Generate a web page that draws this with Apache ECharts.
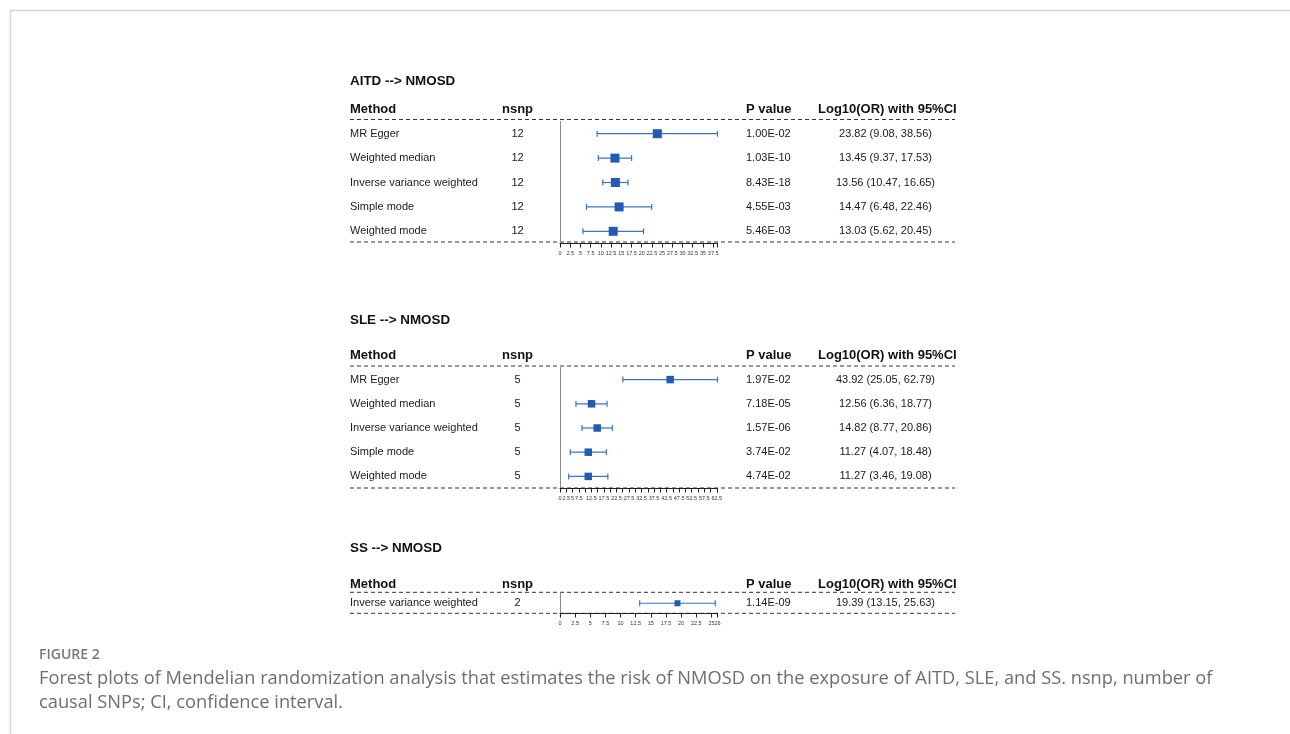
<!DOCTYPE html>
<html>
<head>
<meta charset="utf-8">
<script src="https://cdn.jsdelivr.net/npm/echarts@6/dist/echarts.min.js"></script>
<style>
  html, body { margin: 0; padding: 0; background: #fff; }
  #chart { width: 1290px; height: 734px; }
</style>
</head>
<body>
<div id="chart"></div>
<script>
  // AITD --> NMOSD
  const aitdMethods = ['MR Egger', 'Weighted median', 'Inverse variance weighted', 'Simple mode', 'Weighted mode']
  const aitdNsnp = [12, 12, 12, 12, 12]
  const aitdP = ['1.00E-02', '1.03E-10', '8.43E-18', '4.55E-03', '5.46E-03']
  const aitdOr = [23.82, 13.45, 13.56, 14.47, 13.03]
  const aitdLo = [9.08, 9.37, 10.47, 6.48, 5.62]
  const aitdHi = [38.56, 17.53, 16.65, 22.46, 20.45]

  // SLE --> NMOSD
  const sleMethods = ['MR Egger', 'Weighted median', 'Inverse variance weighted', 'Simple mode', 'Weighted mode']
  const sleNsnp = [5, 5, 5, 5, 5]
  const sleP = ['1.97E-02', '7.18E-05', '1.57E-06', '3.74E-02', '4.74E-02']
  const sleOr = [43.92, 12.56, 14.82, 11.27, 11.27]
  const sleLo = [25.05, 6.36, 8.77, 4.07, 3.46]
  const sleHi = [62.79, 18.77, 20.86, 18.48, 19.08]

  // SS --> NMOSD
  const ssMethods = ['Inverse variance weighted']
  const ssNsnp = [2]
  const ssP = ['1.14E-09']
  const ssOr = [19.39]
  const ssLo = [13.15]
  const ssHi = [25.63]

  const titles = ['AITD --> NMOSD', 'SLE --> NMOSD', 'SS --> NMOSD']
  const headers = ['Method', 'nsnp', 'P value', 'Log10(OR) with 95%CI']
  const axisMax = [38.56, 62.79, 26]
  const tickStep = 2.5

  const panels = [
    { methods: aitdMethods, nsnp: aitdNsnp, p: aitdP, or: aitdOr, lo: aitdLo, hi: aitdHi },
    { methods: sleMethods, nsnp: sleNsnp, p: sleP, or: sleOr, lo: sleLo, hi: sleHi },
    { methods: ssMethods, nsnp: ssNsnp, p: ssP, or: ssOr, lo: ssLo, hi: ssHi }
  ]

  // layout (px)
  const plotLeft = 560
  const plotWidth = 157.5
  const gridTops = [121.5, 367.5, 593]
  const gridHeights = [122, 121, 20.5]
  const ruleYs = [[119.5, 242], [366, 488], [592.3, 613.3]]
  const titleYs = [81.5, 320.5, 548.5]
  const headerYs = [109.5, 355.5, 584.5]
  const markSizes = [9, 7.5, 6]
  const lineLeft = 350
  const lineRight = 955

  const FONT = '"Liberation Sans", Arial, sans-serif'
  const CAPTION_FONT = '"Open Sans", sans-serif'
  const boxColor = '#1f5cb5'
  const ciColor = '#3c72c8'

  const isStep = v => Math.abs(v / tickStep - Math.round(v / tickStep)) < 1e-6
  const tickFormatters = [
    v => (isStep(v) ? String(v) : ''),
    v => (isStep(v) && (v < 10 || Math.abs(v % 5 - 2.5) < 1e-6) ? String(v) : ''),
    v => (isStep(v) ? String(v) : String(Math.round(v)))
  ]

  const grids = []
  const xAxes = []
  const yAxes = []
  const series = []
  const graphics = []

  const text = (x, y, str, font, fill) => ({
    type: 'text',
    style: { x: x, y: y, text: str, font: font, fill: fill, verticalAlign: 'middle', align: 'left' }
  })

  panels.forEach((pn, i) => {
    grids.push({ left: plotLeft, width: plotWidth, top: gridTops[i], height: gridHeights[i] })

    xAxes.push({
      type: 'value',
      gridIndex: i,
      min: 0,
      max: axisMax[i],
      interval: tickStep,
      axisLine: { show: true, onZero: false, lineStyle: { color: '#222', width: 1 } },
      axisTick: { show: true, length: 4, lineStyle: { color: '#222' } },
      splitLine: { show: false },
      axisLabel: {
        fontSize: 5.5,
        fontFamily: FONT,
        margin: 7,
        hideOverlap: false,
        showMinLabel: true,
        showMaxLabel: true,
        color: v => (i === 0 && v === 0 ? '#d25a4a' : '#333'),
        formatter: tickFormatters[i]
      }
    })

    const base = yAxes.length
    const colAxis = (position, margin, align, formatter, showLine) => ({
      type: 'category',
      gridIndex: i,
      position: position,
      data: pn.methods,
      inverse: true,
      axisLine: { show: !!showLine, onZero: false, lineStyle: { color: '#8c8c8c', width: 1 } },
      axisTick: { show: false },
      splitLine: { show: false },
      axisLabel: {
        interval: 0,
        margin: margin,
        align: align,
        fontSize: 11,
        fontFamily: FONT,
        color: '#1a1a1a',
        formatter: formatter
      }
    })
    yAxes.push(colAxis('left', plotLeft - 350, 'left', v => v, true))
    yAxes.push(colAxis('left', plotLeft - 517.5, 'center', (v, k) => String(pn.nsnp[k])))
    yAxes.push(colAxis('right', 746 - (plotLeft + plotWidth), 'left', (v, k) => pn.p[k]))
    yAxes.push(colAxis('right', 885.5 - (plotLeft + plotWidth), 'center',
      (v, k) => `${pn.or[k].toFixed(2)} (${pn.lo[k].toFixed(2)}, ${pn.hi[k].toFixed(2)})`))

    series.push({
      type: 'custom',
      xAxisIndex: i,
      yAxisIndex: base,
      data: pn.lo.map((l, k) => [l, pn.hi[k], k]),
      encode: { x: [0, 1], y: 2 },
      silent: true,
      z: 2,
      renderItem: (params, api) => {
        const y = api.value(2)
        const a = api.coord([api.value(0), y])
        const b = api.coord([api.value(1), y])
        const h = 3
        const style = { stroke: ciColor, lineWidth: 1.2 }
        return {
          type: 'group',
          children: [
            { type: 'line', shape: { x1: a[0], y1: a[1], x2: b[0], y2: b[1] }, style: style },
            { type: 'line', shape: { x1: a[0], y1: a[1] - h, x2: a[0], y2: a[1] + h }, style: style },
            { type: 'line', shape: { x1: b[0], y1: b[1] - h, x2: b[0], y2: b[1] + h }, style: style }
          ]
        }
      }
    })

    series.push({
      type: 'scatter',
      xAxisIndex: i,
      yAxisIndex: base,
      symbol: 'rect',
      symbolSize: markSizes[i],
      data: pn.or.map((v, k) => [v, k]),
      itemStyle: { color: boxColor, opacity: 1 },
      z: 3,
      silent: true
    })

    // title + header row
    graphics.push(text(lineLeft, titleYs[i], titles[i], `bold 13.4px ${FONT}`, '#111'))
    const headerX = [350, 502, 746, 818]
    headers.forEach((h, k) => {
      graphics.push(text(headerX[k], headerYs[i], h, `bold 13px ${FONT}`, '#111'))
    })

    // dashed rules
    ruleYs[i].forEach(y => {
      graphics.push({
        type: 'line',
        shape: { x1: lineLeft, y1: y, x2: lineRight, y2: y },
        style: { stroke: '#333', lineWidth: 1, lineDash: [4, 3] },
        z: -1
      })
    })
  })

  // figure frame + caption
  graphics.push({ type: 'line', shape: { x1: 10, y1: 10.5, x2: 1290, y2: 10.5 }, style: { stroke: '#d6d6d6', lineWidth: 1.5 } })
  graphics.push({ type: 'line', shape: { x1: 10.5, y1: 10, x2: 10.5, y2: 734 }, style: { stroke: '#d6d6d6', lineWidth: 1.5 } })
  graphics.push(text(39, 655, 'FIGURE 2', `600 14px ${CAPTION_FONT}`, '#777'))
  graphics.push(text(39, 678.5,
    'Forest plots of Mendelian randomization analysis that estimates the risk of NMOSD on the exposure of AITD, SLE, and SS. nsnp, number of',
    `18.25px ${CAPTION_FONT}`, '#6e6e6e'))
  graphics.push(text(39, 702.5, 'causal SNPs; CI, confidence interval.', `18.25px ${CAPTION_FONT}`, '#6e6e6e'))

  const chart = echarts.init(document.getElementById('chart'), null, { renderer: 'canvas' })
  chart.setOption({
    animation: false,
    backgroundColor: '#fff',
    grid: grids,
    xAxis: xAxes,
    yAxis: yAxes,
    series: series,
    graphic: graphics
  })
</script>
</body>
</html>
